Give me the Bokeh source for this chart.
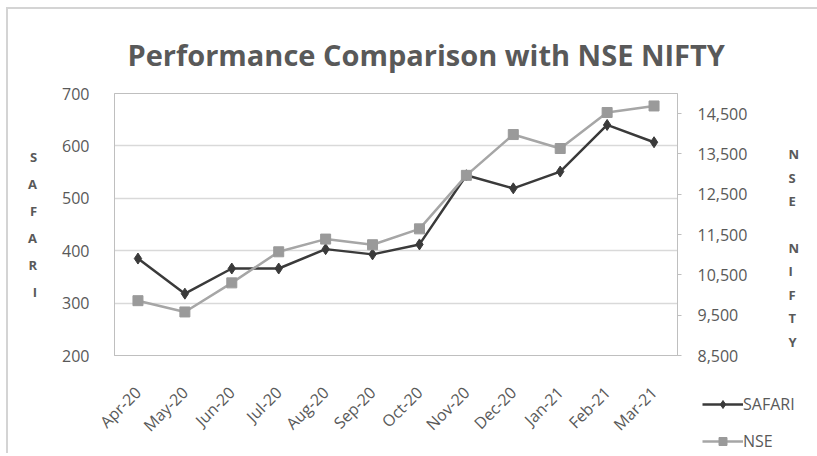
import math
from bokeh.plotting import figure
from bokeh.layouts import column
from bokeh.models import (Range1d, LinearAxis, FixedTicker, NumeralTickFormatter,
                          Legend, LegendItem, FactorRange)
from bokeh.embed import file_html
from bokeh.resources import INLINE

# ---- data ----
months = ["Apr-20", "May-20", "Jun-20", "Jul-20", "Aug-20", "Sep-20",
          "Oct-20", "Nov-20", "Dec-20", "Jan-21", "Feb-21", "Mar-21"]
safari = [385, 318, 366, 366, 403, 393, 412, 544, 519, 551, 640, 607]
nse = [9860, 9580, 10302, 11073, 11388, 11248, 11642, 12969, 13982, 13635, 14529, 14691]
left_ticks = [200, 300, 400, 500, 600, 700]
right_ticks = [8500, 9500, 10500, 11500, 12500, 13500, 14500]
title_text = "Performance Comparison with NSE NIFTY"
left_title = "SAFARI"
right_title = "NSE NIFTY"
series_names = ["SAFARI", "NSE"]

TXT = "#595959"
GRID = "#d9d9d9"
AXIS = "#bfbfbf"
FONT = "Open Sans"
C1 = "#3a3a3a"
C2_LINE = "#a6a6a6"
C2_MARK = "#9a9a9a"

p = figure(x_range=FactorRange(*months), y_range=Range1d(200, 700),
           width=809, height=447, output_backend="svg", toolbar_location=None,
           min_border_left=106, min_border_right=140, min_border_top=84,
           min_border_bottom=101)
p.extra_y_ranges = {"nse": Range1d(8500, 15000)}

p.title.text = title_text
p.title.align = "left"
p.title.offset = 13
p.title.standoff = 40
p.title.text_font = FONT
p.title.text_font_style = "bold"
p.title.text_font_size = "29px"
p.title.text_color = TXT

p.outline_line_color = AXIS
p.xgrid.grid_line_color = None
p.ygrid.grid_line_color = GRID
p.ygrid.grid_line_width = 1.5
p.ygrid.ticker = FixedTicker(ticks=left_ticks)

# left axis
p.yaxis.ticker = FixedTicker(ticks=left_ticks)
p.yaxis.axis_line_color = AXIS
p.yaxis.major_tick_line_color = None
p.yaxis.minor_tick_line_color = None
p.yaxis.major_label_text_font = FONT
p.yaxis.major_label_text_font_size = "16px"
p.yaxis.major_label_text_color = TXT
p.yaxis.major_label_standoff = 19
p.yaxis.axis_label = "\n".join(left_title)
p.yaxis.axis_label_orientation = "horizontal"
p.yaxis.axis_label_text_font = FONT
p.yaxis.axis_label_text_font_style = "bold"
p.yaxis.axis_label_text_font_size = "13px"
p.yaxis.axis_label_text_color = TXT
p.yaxis.axis_label_text_line_height = 1.5
p.yaxis.axis_label_standoff = 22

# bottom axis
p.xaxis.axis_line_color = AXIS
p.xaxis.major_tick_line_color = None
p.xaxis.major_label_orientation = math.pi / 4
p.xaxis.major_label_text_font = FONT
p.xaxis.major_label_text_font_size = "16px"
p.xaxis.major_label_text_color = TXT
p.xaxis.major_label_standoff = 28

# right axis
ra = LinearAxis(y_range_name="nse", ticker=FixedTicker(ticks=right_ticks),
                formatter=NumeralTickFormatter(format="0,0"))
ra.axis_line_color = AXIS
ra.major_tick_line_color = AXIS
ra.major_tick_out = 4
ra.major_tick_in = 0
ra.minor_tick_line_color = None
ra.major_label_text_font = FONT
ra.major_label_text_font_size = "16px"
ra.major_label_text_color = TXT
ra.major_label_standoff = 16
ra.axis_label = "\n\n" + "\n".join(right_title)
ra.axis_label_orientation = "horizontal"
ra.axis_label_text_font = FONT
ra.axis_label_text_font_style = "bold"
ra.axis_label_text_font_size = "13px"
ra.axis_label_text_color = TXT
ra.axis_label_text_line_height = 1.3
ra.axis_label_standoff = 38
p.add_layout(ra, "right")

# series
p.line(months, safari, line_color=C1, line_width=2.5)
p.scatter(months, safari, marker="diamond", size=11, fill_color=C1, line_color=C1)
p.line(months, nse, y_range_name="nse", line_color=C2_LINE, line_width=2.5)
p.scatter(months, nse, y_range_name="nse", marker="square", size=10,
          fill_color=C2_MARK, line_color=C2_MARK)

# legend: small transparent figure overlaid on the bottom-right corner;
# its proxy renderers use the series data, which lies outside its (0, 1) ranges
lf = figure(width=110, height=60, output_backend="svg", toolbar_location=None,
            min_border=0, x_range=(0, 1), y_range=(0, 1))
lf.axis.visible = False
lf.grid.visible = False
lf.outline_line_color = None
lf.background_fill_alpha = 0
lf.border_fill_alpha = 0
idx = list(range(len(months)))
r1 = lf.line(idx, safari, line_color=C1, line_width=2.5)
m1 = lf.scatter(idx, safari, marker="diamond", size=11, fill_color=C1, line_color=C1)
r2 = lf.line(idx, nse, line_color=C2_LINE, line_width=2.5)
m2 = lf.scatter(idx, nse, marker="square", size=10, fill_color=C2_MARK, line_color=C2_MARK)
leg = Legend(items=[LegendItem(label=series_names[0], renderers=[r1, m1]),
                    LegendItem(label=series_names[1], renderers=[r2, m2])],
             location="top_left", margin=0, padding=0, spacing=15,
             glyph_width=41, glyph_height=20, label_standoff=0, label_height=20,
             label_text_font=FONT, label_text_font_size="16px",
             label_text_color=TXT, border_line_color=None, background_fill_alpha=0)
lf.add_layout(leg)
lf.margin = (-63, 0, 0, 694)

layout = column(p, lf, spacing=0, margin=(7, 0, 0, 6),
                styles={"border-top": "2px solid #d4d4d4",
                        "border-left": "2px solid #d4d4d4"})
open("out.html", "w").write(file_html(layout, INLINE))
